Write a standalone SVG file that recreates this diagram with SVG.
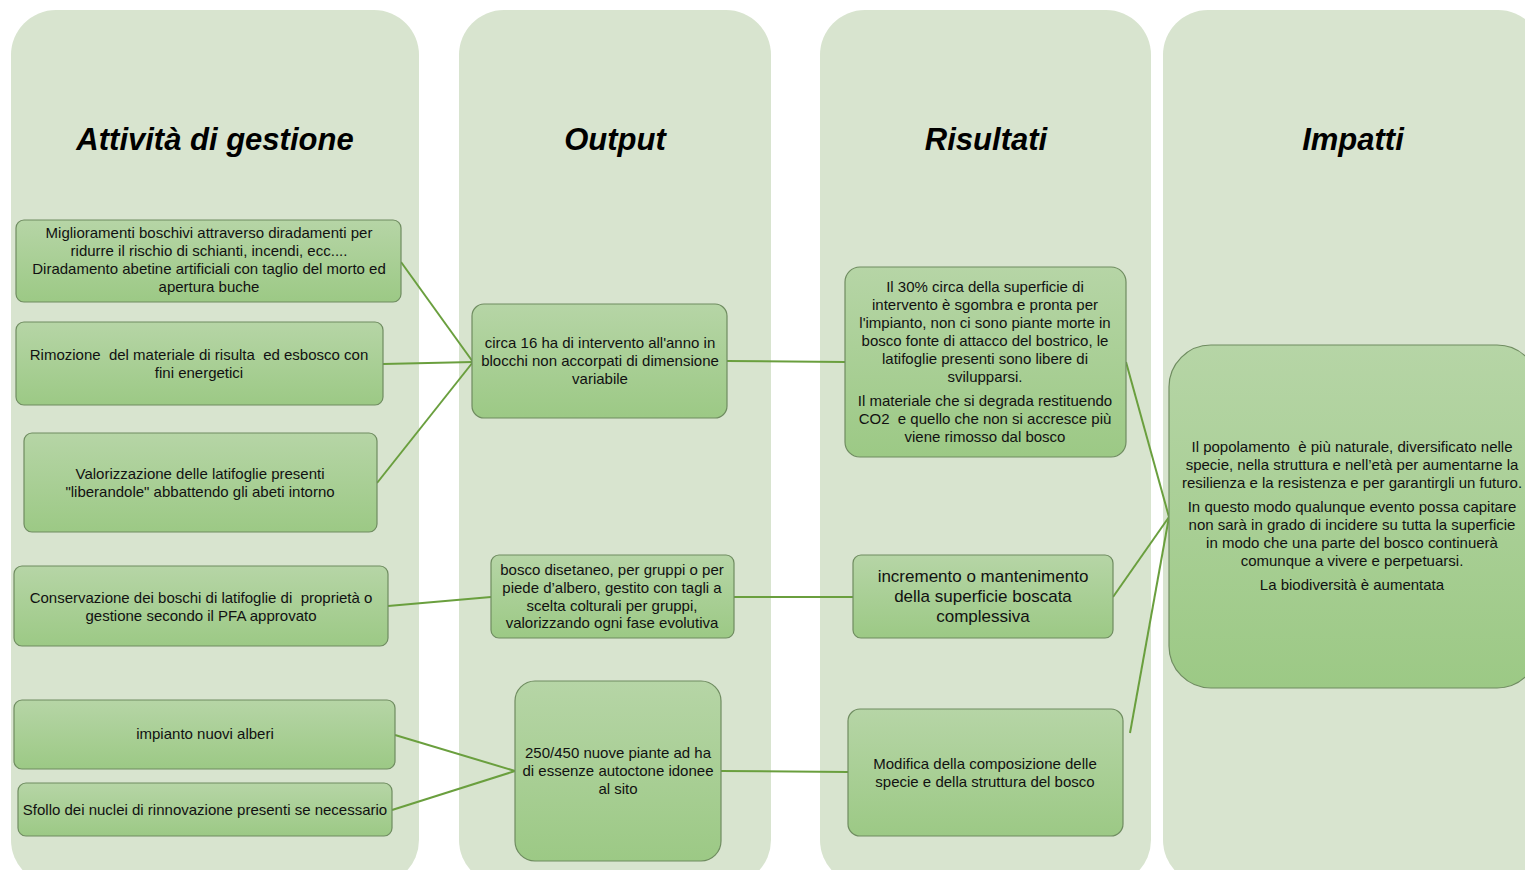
<svg xmlns="http://www.w3.org/2000/svg" width="1525" height="870" viewBox="0 0 1525 870">
<defs>
<linearGradient id="ng" x1="0" y1="0" x2="0" y2="1">
<stop offset="0" stop-color="#b6d5a6"/>
<stop offset="1" stop-color="#9cc985"/>
</linearGradient>
<style>
.col{fill:#d8e4cf}
.title{font-family:"Liberation Sans",Arial,sans-serif;font-size:31px;font-weight:bold;font-style:italic;fill:#000;text-anchor:middle}
.node{fill:url(#ng);stroke:#6f8c60;stroke-width:1.2}
.t{font-family:"Liberation Sans",Arial,sans-serif;font-size:15px;fill:#111;text-anchor:middle}
.tl{font-family:"Liberation Sans",Arial,sans-serif;font-size:17px;fill:#111;text-anchor:middle}
.conn line{stroke:#6a9f3e;stroke-width:2;fill:none}
</style>
</defs>
<rect width="1525" height="870" fill="#ffffff"/>
<g id="columns">
<rect class="col" x="11" y="10" width="408" height="875" rx="45"/>
<rect class="col" x="459" y="10" width="312" height="875" rx="45"/>
<rect class="col" x="820" y="10" width="331" height="875" rx="45"/>
<rect class="col" x="1163" y="10" width="380" height="875" rx="45"/>
<text class="title" x="215" y="150">Attività di gestione</text>
<text class="title" x="615" y="150">Output</text>
<text class="title" x="986" y="150">Risultati</text>
<text class="title" x="1353" y="150">Impatti</text>
</g>
<g id="connectors" class="conn">
<line x1="401" y1="262" x2="473" y2="362"/>
<line x1="383" y1="364" x2="473" y2="362"/>
<line x1="377" y1="483" x2="473" y2="362"/>
<line x1="388" y1="606" x2="491" y2="597"/>
<line x1="395" y1="735" x2="515" y2="771"/>
<line x1="392" y1="810" x2="515" y2="771"/>
<line x1="727" y1="361" x2="845" y2="362"/>
<line x1="734" y1="597" x2="853" y2="597"/>
<line x1="721" y1="771" x2="848" y2="772"/>
<line x1="1126" y1="362" x2="1169" y2="517"/>
<line x1="1113" y1="597" x2="1169" y2="517"/>
<line x1="1130" y1="733" x2="1169" y2="517"/>
</g>
<g id="a1">
<rect class="node" x="16" y="220" width="385" height="82" rx="8"/>
<text class="t" x="209" y="238">Miglioramenti boschivi attraverso diradamenti per</text>
<text class="t" x="209" y="256">ridurre il rischio di schianti, incendi, ecc....</text>
<text class="t" x="209" y="274">Diradamento abetine artificiali con taglio del morto ed</text>
<text class="t" x="209" y="292">apertura buche</text>
</g>
<g id="a2">
<rect class="node" x="16" y="322" width="367" height="83" rx="8"/>
<text class="t" x="199" y="360" xml:space="preserve">Rimozione  del materiale di risulta  ed esbosco con</text>
<text class="t" x="199" y="378">fini energetici</text>
</g>
<g id="a3">
<rect class="node" x="24" y="433" width="353" height="99" rx="8"/>
<text class="t" x="200" y="479">Valorizzazione delle latifoglie presenti</text>
<text class="t" x="200" y="497">"liberandole" abbattendo gli abeti intorno</text>
</g>
<g id="a4">
<rect class="node" x="14" y="566" width="374" height="80" rx="8"/>
<text class="t" x="201" y="603" xml:space="preserve">Conservazione dei boschi di latifoglie di  proprietà o</text>
<text class="t" x="201" y="621">gestione secondo il PFA approvato</text>
</g>
<g id="a5">
<rect class="node" x="14" y="700" width="381" height="69" rx="8"/>
<text class="t" x="205" y="739">impianto nuovi alberi</text>
</g>
<g id="a6">
<rect class="node" x="18" y="783" width="374" height="53" rx="8"/>
<text class="t" x="205" y="815">Sfollo dei nuclei di rinnovazione presenti se necessario</text>
</g>
<g id="b1">
<rect class="node" x="472" y="304" width="255" height="114" rx="12"/>
<text class="t" x="600" y="348">circa 16 ha di intervento all'anno in</text>
<text class="t" x="600" y="366">blocchi non accorpati di dimensione</text>
<text class="t" x="600" y="384">variabile</text>
</g>
<g id="b2">
<rect class="node" x="491" y="555" width="243" height="83" rx="8"/>
<text class="t" x="612" y="575">bosco disetaneo, per gruppi o per</text>
<text class="t" x="612" y="593">piede d’albero, gestito con tagli a</text>
<text class="t" x="612" y="611">scelta colturali per gruppi,</text>
<text class="t" x="612" y="628">valorizzando ogni fase evolutiva</text>
</g>
<g id="b3">
<rect class="node" x="515" y="681" width="206" height="180" rx="20"/>
<text class="t" x="618" y="758">250/450 nuove piante ad ha</text>
<text class="t" x="618" y="776">di essenze autoctone idonee</text>
<text class="t" x="618" y="794">al sito</text>
</g>
<g id="c1">
<rect class="node" x="845" y="267" width="281" height="190" rx="15"/>
<text class="t" x="985" y="292">Il 30% circa della superficie di</text>
<text class="t" x="985" y="310">intervento è sgombra e pronta per</text>
<text class="t" x="985" y="328">l'impianto, non ci sono piante morte in</text>
<text class="t" x="985" y="346">bosco fonte di attacco del bostrico, le</text>
<text class="t" x="985" y="364">latifoglie presenti sono libere di</text>
<text class="t" x="985" y="382">svilupparsi.</text>
<text class="t" x="985" y="406">Il materiale che si degrada restituendo</text>
<text class="t" x="985" y="424" xml:space="preserve">CO2  e quello che non si accresce più</text>
<text class="t" x="985" y="442">viene rimosso dal bosco</text>
</g>
<g id="c2">
<rect class="node" x="853" y="555" width="260" height="83" rx="8"/>
<text class="tl" x="983" y="582">incremento o mantenimento</text>
<text class="tl" x="983" y="602">della superficie boscata</text>
<text class="tl" x="983" y="622">complessiva</text>
</g>
<g id="c3">
<rect class="node" x="848" y="709" width="275" height="127" rx="12"/>
<text class="t" x="985" y="769">Modifica della composizione delle</text>
<text class="t" x="985" y="787">specie e della struttura del bosco</text>
</g>
<g id="d1">
<rect class="node" x="1169" y="345" width="370" height="343" rx="42"/>
<text class="t" x="1352" y="452" xml:space="preserve">Il popolamento  è più naturale, diversificato nelle</text>
<text class="t" x="1352" y="470">specie, nella struttura e nell’età per aumentarne la</text>
<text class="t" x="1352" y="488">resilienza e la resistenza e per garantirgli un futuro.</text>
<text class="t" x="1352" y="512">In questo modo qualunque evento possa capitare</text>
<text class="t" x="1352" y="530">non sarà in grado di incidere su tutta la superficie</text>
<text class="t" x="1352" y="548">in modo che una parte del bosco continuerà</text>
<text class="t" x="1352" y="566">comunque a vivere e perpetuarsi.</text>
<text class="t" x="1352" y="590">La biodiversità è aumentata</text>
</g>
</svg>
